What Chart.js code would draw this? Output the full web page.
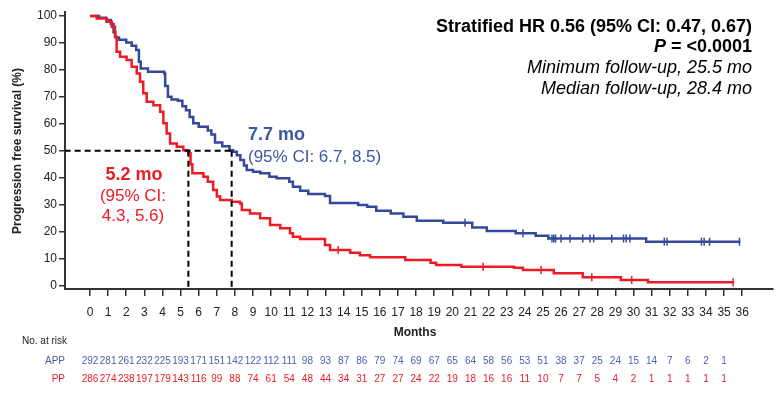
<!DOCTYPE html>
<html>
<head>
<meta charset="utf-8">
<script src="https://cdn.jsdelivr.net/npm/chart.js@4.4.1/dist/chart.umd.min.js"></script>
<style>
html, body { margin: 0; padding: 0; background: #fff; }
</style>
</head>
<body>
<canvas id="kmChart" width="781" height="396"></canvas>
<script>
// meses del eje x y ticks del eje y
const meses = [0,1,2,3,4,5,6,7,8,9,10,11,12,13,14,15,16,17,18,19,20,21,22,23,24,25,26,27,28,29,30,31,32,33,34,35,36];
const ticksY = [0,10,20,30,40,50,60,70,80,90,100];

// curva APP (tiempo en meses, supervivencia % despues del evento)
const appTiempo = [0,0.5,0.9,1.15,1.3,1.4,1.6,2.0,2.3,2.55,2.7,2.8,3.2,4.1,4.15,4.3,4.5,4.85,5.1,5.3,5.5,5.7,6.0,6.5,6.7,6.9,7.3,7.7,7.9,8.1,8.3,8.5,8.65,9.0,9.4,9.9,10.3,11.0,11.2,11.6,12.05,12.97,13.25,14.8,15.3,15.8,16.6,17.3,18.04,19.5,21.1,21.9,23.5,24.6,25.3,30.7,35.9];
const appSuperv = [100,99.4,98.5,97,94,92,91.2,90.2,89,87.4,83,80.5,79.3,78.7,74,70,69,68.5,66.5,65,62.5,60.2,58.9,57.5,56,53,51.6,50.2,49.6,48.3,46.5,44.5,42.8,42.2,41.6,40.3,39.8,38.5,36.6,35.1,33.9,33.2,30.6,29.8,29.2,27.7,26.7,25.5,24.0,23.2,21.5,20.2,19.3,18.4,17.4,16.2,16.2];

// curva PP
const ppTiempo = [0,0.37,0.92,1.2,1.38,1.47,1.66,2.02,2.3,2.58,2.76,2.94,3.13,3.5,3.87,4.05,4.23,4.42,4.79,5.15,5.43,5.55,5.65,6.26,6.5,6.8,7.0,7.18,7.82,8.28,8.38,8.83,9.39,9.94,10.5,11.04,11.2,11.6,12.97,13.25,14.36,14.9,15.46,17.4,18.8,19.1,20.5,23.4,23.9,25.6,27.2,29.3,30.8,35.5];
const ppSuperv = [100,99.1,97.9,96,92.3,86.7,84.9,83.7,81.2,78.7,75.6,71.3,68.2,66.9,64.5,60.2,56.4,52.7,51.5,50.2,49,45,41.6,40.3,38.5,35.4,33,31.7,31.0,30.4,28,26.7,24.9,22.4,21.2,19.3,18.0,17.2,15,13.1,12.1,11.2,10.4,9.4,8.4,7.5,6.9,6.5,5.7,4.5,3.0,2.0,1.1,1.1];

// censuras
const appCensura = [20.7,23.9,25.5,25.6,25.7,26.0,26.5,27.2,27.6,27.8,28.8,29.45,29.6,29.8,31.7,31.85,33.75,33.9,34.2,35.85];
const ppCensura = [13.7,21.7,24.9,27.7,29.9,35.5];

// numero en riesgo por mes
const appRiesgo = [292,281,261,232,225,193,171,151,142,122,112,111,98,93,87,86,79,74,69,67,65,64,58,56,53,51,38,37,25,24,15,14,7,6,2,1];
const ppRiesgo = [286,274,238,197,179,143,116,99,88,74,61,54,48,44,34,31,27,27,24,22,19,18,16,16,11,10,7,7,5,4,2,1,1,1,1,1];

// medianas (posicion de las lineas punteadas)
const medianaPp = 5.43;
const medianaApp = 7.82;

const azul = '#34499c';
const rojo = '#ed1c24';
const fuente = '"Liberation Sans", Arial, sans-serif';

function puntos(tiempo, superv) {
	return tiempo.map((t, i) => ({ x: t, y: superv[i] }));
}

function supervEn(tiempo, superv, t) {
	let val = superv[0];
	for (let i = 0; i < tiempo.length; i++) {
		if (tiempo[i] <= t) val = superv[i];
	}
	return val;
}

function censuras(lista, tiempo, superv) {
	return lista.map(t => ({ x: t, y: supervEn(tiempo, superv, t) }));
}

const textos = {
	id: 'textos',
	afterDraw(chart) {
		const c = chart.ctx;
		const ejeX = chart.scales.x;

		c.save();
		c.translate(18, 151);
		c.rotate(-Math.PI / 2);
		c.font = 'bold 12px ' + fuente;
		c.fillStyle = '#222';
		c.textAlign = 'center';
		c.textBaseline = 'middle';
		c.fillText('Progression free survival (%)', 0, 0);
		c.restore();

		c.save();
		c.textBaseline = 'middle';
		c.fillStyle = '#000';
		c.textAlign = 'right';
		c.font = 'bold 18px ' + fuente;
		c.fillText('Stratified HR 0.56 (95% CI: 0.47, 0.67)', 752, 27);
		const resto = ' = <0.0001';
		const w = c.measureText(resto).width;
		c.fillText(resto, 752, 47);
		c.font = 'italic bold 18px ' + fuente;
		c.fillText('P', 752 - w, 47);
		c.font = 'italic 18px ' + fuente;
		c.fillText('Minimum follow-up, 25.5 mo', 752, 68);
		c.fillText('Median follow-up, 28.4 mo', 752, 89);

		// etiquetas de medianas
		c.textAlign = 'left';
		c.fillStyle = '#3d55a8';
		c.font = 'bold 18px ' + fuente;
		c.fillText('7.7 mo', 248, 135);
		c.font = '17px ' + fuente;
		c.fillText('(95% CI: 6.7, 8.5)', 248, 157);

		c.textAlign = 'center';
		c.fillStyle = rojo;
		c.font = 'bold 18px ' + fuente;
		c.fillText('5.2 mo', 134, 175);
		c.font = '17px ' + fuente;
		c.fillText('(95% CI:', 133, 196);
		c.fillText('4.3, 5.6)', 133, 216);

		// titulo eje x
		c.fillStyle = '#222';
		c.font = 'bold 12px ' + fuente;
		c.fillText('Months', 415, 333);

		// tabla en riesgo
		c.font = '10px ' + fuente;
		c.textAlign = 'left';
		c.fillText('No. at risk', 22, 341);
		c.textAlign = 'right';
		c.fillStyle = '#4a5aa8';
		c.fillText('APP', 65, 361);
		c.fillStyle = rojo;
		c.fillText('PP', 65, 379);
		c.textAlign = 'center';
		appRiesgo.forEach((n, i) => {
			c.fillStyle = '#4d5fb0';
			c.fillText(String(n), ejeX.getPixelForValue(meses[i]), 361);
		});
		ppRiesgo.forEach((n, i) => {
			c.fillStyle = rojo;
			c.fillText(String(n), ejeX.getPixelForValue(meses[i]), 379);
		});
		c.restore();
	}
};

const ctx = document.getElementById('kmChart').getContext('2d');

const kmChart = new Chart(ctx, {
	type: 'line',
	data: {
		datasets: [
			{
				label: 'Mediana horizontal',
				data: [{ x: -1.4, y: 50 }, { x: medianaApp, y: 50 }],
				borderColor: '#000',
				borderWidth: 2,
				borderDash: [6, 4],
				pointRadius: 0
			},
			{
				label: 'Mediana PP',
				data: [{ x: medianaPp, y: 50 }, { x: medianaPp, y: -2 }],
				borderColor: '#000',
				borderWidth: 2,
				borderDash: [6, 4],
				pointRadius: 0
			},
			{
				label: 'Mediana APP',
				data: [{ x: medianaApp, y: 50 }, { x: medianaApp, y: -2 }],
				borderColor: '#000',
				borderWidth: 2,
				borderDash: [6, 4],
				pointRadius: 0
			},
			{
				label: 'PP',
				data: puntos(ppTiempo, ppSuperv),
				borderColor: rojo,
				borderWidth: 2.5,
				stepped: 'before',
				pointRadius: 0
			},
			{
				label: 'APP',
				data: puntos(appTiempo, appSuperv),
				borderColor: azul,
				borderWidth: 2.5,
				stepped: 'before',
				pointRadius: 0
			},
			{
				label: 'PP censura',
				data: censuras(ppCensura, ppTiempo, ppSuperv),
				showLine: false,
				pointStyle: 'line',
				rotation: 90,
				pointRadius: 4,
				borderColor: rojo,
				borderWidth: 1.5
			},
			{
				label: 'APP censura',
				data: censuras(appCensura, appTiempo, appSuperv),
				showLine: false,
				pointStyle: 'line',
				rotation: 90,
				pointRadius: 4,
				borderColor: azul,
				borderWidth: 1.5
			}
		]
	},
	options: {
		responsive: false,
		animation: false,
		layout: { padding: { top: 12, right: 8, left: 0, bottom: 0 } },
		plugins: {
			legend: { display: false },
			tooltip: { enabled: false }
		},
		scales: {
			x: {
				type: 'linear',
				min: -1.38,
				max: 37.7,
				afterBuildTicks: function (s) { s.ticks = meses.map(v => ({ value: v })); },
				afterFit: function (s) { s.height = 107; },
				grid: { display: true, drawOnChartArea: false, drawTicks: true, tickLength: 7, color: '#333', lineWidth: 1.5 },
				border: { display: true, color: '#333', width: 2 },
				ticks: { color: '#222', font: { family: fuente, size: 12 }, padding: 9, maxRotation: 0, autoSkip: false }
			},
			y: {
				min: -1.37,
				max: 101.5,
				afterBuildTicks: function (s) { s.ticks = ticksY.map(v => ({ value: v })); },
				afterFit: function (s) { s.width = 65; },
				grid: { display: true, drawOnChartArea: false, drawTicks: true, tickLength: 6, color: '#333', lineWidth: 1.5 },
				border: { display: true, color: '#333', width: 2 },
				ticks: { color: '#222', font: { family: fuente, size: 12 }, padding: 2 }
			}
		}
	},
	plugins: [textos]
});
</script>
</body>
</html>
